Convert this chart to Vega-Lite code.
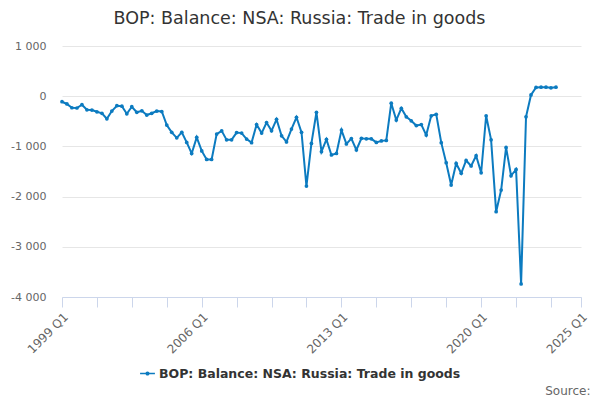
{
  "$schema": "https://vega.github.io/schema/vega-lite/v6.json",
  "autosize": {"type": "none"},
  "padding": {"left": 62, "top": 46, "right": 19, "bottom": 103},
  "width": 519,
  "height": 251,
  "config": {
    "view": {"stroke": null},
    "font": "DejaVu Sans"
  },
  "title": {
    "text": "BOP: Balance: NSA: Russia: Trade in goods",
    "fontSize": 17.5,
    "fontWeight": "normal",
    "color": "#333333",
    "dx": -22,
    "offset": 13
  },
  "data": {
    "values": [
      {"quarter": "1999-01-01", "value": -110},
      {"quarter": "1999-04-01", "value": -155},
      {"quarter": "1999-07-01", "value": -230},
      {"quarter": "1999-10-01", "value": -235},
      {"quarter": "2000-01-01", "value": -170},
      {"quarter": "2000-04-01", "value": -270},
      {"quarter": "2000-07-01", "value": -275},
      {"quarter": "2000-10-01", "value": -310},
      {"quarter": "2001-01-01", "value": -340},
      {"quarter": "2001-04-01", "value": -450},
      {"quarter": "2001-07-01", "value": -295},
      {"quarter": "2001-10-01", "value": -190},
      {"quarter": "2002-01-01", "value": -200},
      {"quarter": "2002-04-01", "value": -350},
      {"quarter": "2002-07-01", "value": -210},
      {"quarter": "2002-10-01", "value": -320},
      {"quarter": "2003-01-01", "value": -290},
      {"quarter": "2003-04-01", "value": -375},
      {"quarter": "2003-07-01", "value": -340},
      {"quarter": "2003-10-01", "value": -295},
      {"quarter": "2004-01-01", "value": -305},
      {"quarter": "2004-04-01", "value": -575},
      {"quarter": "2004-07-01", "value": -720},
      {"quarter": "2004-10-01", "value": -830},
      {"quarter": "2005-01-01", "value": -720},
      {"quarter": "2005-04-01", "value": -920},
      {"quarter": "2005-07-01", "value": -1140},
      {"quarter": "2005-10-01", "value": -820},
      {"quarter": "2006-01-01", "value": -1090},
      {"quarter": "2006-04-01", "value": -1260},
      {"quarter": "2006-07-01", "value": -1260},
      {"quarter": "2006-10-01", "value": -755},
      {"quarter": "2007-01-01", "value": -690},
      {"quarter": "2007-04-01", "value": -870},
      {"quarter": "2007-07-01", "value": -870},
      {"quarter": "2007-10-01", "value": -725},
      {"quarter": "2008-01-01", "value": -735},
      {"quarter": "2008-04-01", "value": -855},
      {"quarter": "2008-07-01", "value": -925},
      {"quarter": "2008-10-01", "value": -565},
      {"quarter": "2009-01-01", "value": -735},
      {"quarter": "2009-04-01", "value": -525},
      {"quarter": "2009-07-01", "value": -690},
      {"quarter": "2009-10-01", "value": -460},
      {"quarter": "2010-01-01", "value": -790},
      {"quarter": "2010-04-01", "value": -910},
      {"quarter": "2010-07-01", "value": -655},
      {"quarter": "2010-10-01", "value": -420},
      {"quarter": "2011-01-01", "value": -720},
      {"quarter": "2011-04-01", "value": -1790},
      {"quarter": "2011-07-01", "value": -940},
      {"quarter": "2011-10-01", "value": -320},
      {"quarter": "2012-01-01", "value": -1105},
      {"quarter": "2012-04-01", "value": -860},
      {"quarter": "2012-07-01", "value": -1170},
      {"quarter": "2012-10-01", "value": -1140},
      {"quarter": "2013-01-01", "value": -675},
      {"quarter": "2013-04-01", "value": -950},
      {"quarter": "2013-07-01", "value": -845},
      {"quarter": "2013-10-01", "value": -1070},
      {"quarter": "2014-01-01", "value": -840},
      {"quarter": "2014-04-01", "value": -850},
      {"quarter": "2014-07-01", "value": -850},
      {"quarter": "2014-10-01", "value": -920},
      {"quarter": "2015-01-01", "value": -890},
      {"quarter": "2015-04-01", "value": -880},
      {"quarter": "2015-07-01", "value": -140},
      {"quarter": "2015-10-01", "value": -475},
      {"quarter": "2016-01-01", "value": -240},
      {"quarter": "2016-04-01", "value": -410},
      {"quarter": "2016-07-01", "value": -490},
      {"quarter": "2016-10-01", "value": -585},
      {"quarter": "2017-01-01", "value": -565},
      {"quarter": "2017-04-01", "value": -775},
      {"quarter": "2017-07-01", "value": -390},
      {"quarter": "2017-10-01", "value": -360},
      {"quarter": "2018-01-01", "value": -925},
      {"quarter": "2018-04-01", "value": -1325},
      {"quarter": "2018-07-01", "value": -1770},
      {"quarter": "2018-10-01", "value": -1340},
      {"quarter": "2019-01-01", "value": -1535},
      {"quarter": "2019-04-01", "value": -1280},
      {"quarter": "2019-07-01", "value": -1390},
      {"quarter": "2019-10-01", "value": -1185},
      {"quarter": "2020-01-01", "value": -1525},
      {"quarter": "2020-04-01", "value": -390},
      {"quarter": "2020-07-01", "value": -870},
      {"quarter": "2020-10-01", "value": -2300},
      {"quarter": "2021-01-01", "value": -1870},
      {"quarter": "2021-04-01", "value": -1020},
      {"quarter": "2021-07-01", "value": -1585},
      {"quarter": "2021-10-01", "value": -1460},
      {"quarter": "2022-01-01", "value": -3740},
      {"quarter": "2022-04-01", "value": -410},
      {"quarter": "2022-07-01", "value": 25},
      {"quarter": "2022-10-01", "value": 175},
      {"quarter": "2023-01-01", "value": 180},
      {"quarter": "2023-04-01", "value": 180},
      {"quarter": "2023-07-01", "value": 168},
      {"quarter": "2023-10-01", "value": 180}
    ]
  },
  "mark": {
    "type": "line",
    "strokeWidth": 2,
    "point": {"filled": true, "size": 14}
  },
  "encoding": {
    "x": {
      "field": "quarter",
      "type": "temporal",
      "scale": {
        "type": "utc",
        "domain": [
          {"year": 1999, "month": 1, "date": 1, "utc": true},
          {"year": 2025, "month": 1, "date": 1, "utc": true}
        ]
      },
      "axis": {
        "values": [
          {"year": 1999, "month": 1, "date": 1, "utc": true},
          {"year": 2000, "month": 10, "date": 1, "utc": true},
          {"year": 2002, "month": 7, "date": 1, "utc": true},
          {"year": 2004, "month": 4, "date": 1, "utc": true},
          {"year": 2006, "month": 1, "date": 1, "utc": true},
          {"year": 2007, "month": 10, "date": 1, "utc": true},
          {"year": 2009, "month": 7, "date": 1, "utc": true},
          {"year": 2011, "month": 4, "date": 1, "utc": true},
          {"year": 2013, "month": 1, "date": 1, "utc": true},
          {"year": 2014, "month": 10, "date": 1, "utc": true},
          {"year": 2016, "month": 7, "date": 1, "utc": true},
          {"year": 2018, "month": 4, "date": 1, "utc": true},
          {"year": 2020, "month": 1, "date": 1, "utc": true},
          {"year": 2021, "month": 10, "date": 1, "utc": true},
          {"year": 2023, "month": 7, "date": 1, "utc": true},
          {"year": 2025, "month": 1, "date": 1, "utc": true}
        ],
        "labelExpr": "(utcmonth(datum.value) == 0 && ((utcyear(datum.value) - 1999) % 7 == 0 || utcyear(datum.value) == 2025)) ? utcyear(datum.value) + ' Q1' : ''",
        "labelAngle": -45,
        "labelAlign": "right",
        "labelBaseline": "top",
        "labelFontSize": 12,
        "labelColor": "#666666",
        "labelPadding": 4,
        "labelOverlap": false,
        "labelFlush": false,
        "grid": false,
        "domainColor": "#ccd6eb",
        "tickColor": "#ccd6eb",
        "tickSize": 10,
        "title": "Source:",
        "titleAnchor": "end",
        "titleAlign": "right",
        "titleBaseline": "alphabetic",
        "titleX": 528,
        "titleY": 97,
        "titleFontSize": 12,
        "titleFontWeight": "normal",
        "titleColor": "#666666"
      }
    },
    "y": {
      "field": "value",
      "type": "quantitative",
      "scale": {"domain": [-4000, 1000], "nice": false},
      "axis": {
        "values": [-4000, -3000, -2000, -1000, 0, 1000],
        "labelExpr": "replace(replace(format(datum.value, ','), ',', ' '), '\u2212', '-')",
        "labelFontSize": 11,
        "labelColor": "#666666",
        "labelPadding": 16,
        "domain": false,
        "ticks": false,
        "gridColor": "#e6e6e6",
        "title": null
      }
    },
    "color": {
      "datum": "BOP: Balance: NSA: Russia: Trade in goods",
      "type": "nominal",
      "scale": {"range": ["#0c7bc0"]},
      "legend": {
        "title": null,
        "orient": "none",
        "legendX": 78,
        "legendY": 320,
        "labelFontSize": 12.5,
        "labelFontWeight": "bold",
        "labelColor": "#333333",
        "labelLimit": 0,
        "symbolType": "M-1,-0.1H1V0.1H-1Z M0,-0.28A0.28,0.28 0 1 1 0,0.28A0.28,0.28 0 1 1 0,-0.28Z",
        "symbolFillColor": "#0c7bc0",
        "symbolStrokeColor": "#0c7bc0",
        "symbolStrokeWidth": 0,
        "symbolSize": 220
      }
    }
  }
}
